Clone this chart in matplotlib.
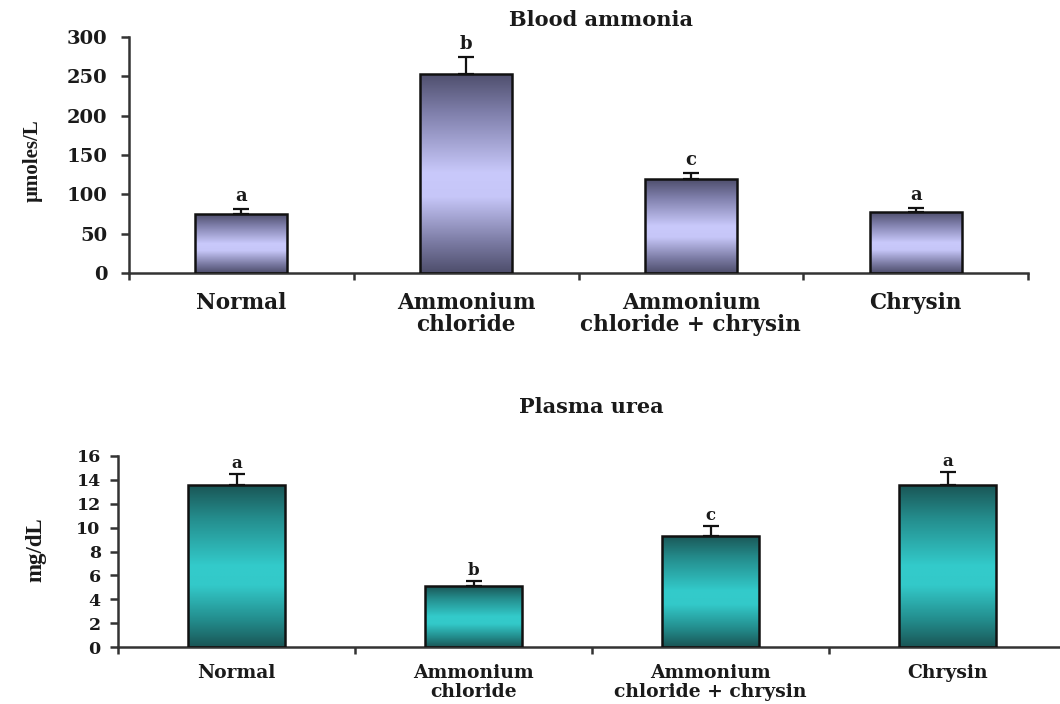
import numpy as np
import matplotlib
matplotlib.use("Agg")
import matplotlib.pyplot as plt
from matplotlib.colors import LinearSegmentedColormap

# ---------------- data ----------------
groups = ["Normal", "Ammonium\nchloride", "Ammonium\nchloride + chrysin", "Chrysin"]

ammonia_title = "Blood ammonia"
ammonia_ylabel = "µmoles/L"
ammonia_mean = [75, 253, 119, 77]
ammonia_sem = [6, 21, 8, 6]
ammonia_letters = ["a", "b", "c", "a"]
ammonia_ticks = [0, 50, 100, 150, 200, 250, 300]

urea_title = "Plasma urea"
urea_ylabel = "mg/dL"
urea_mean = [13.55, 5.1, 9.3, 13.55]
urea_sem = [0.95, 0.4, 0.8, 1.1]
urea_letters = ["a", "b", "c", "a"]
urea_ticks = [0, 2, 4, 6, 8, 10, 12, 14, 16]

W, H = 1060, 704
fig = plt.figure(figsize=(W / 100, H / 100), dpi=100)

SERIF_W = "DejaVu Serif"
SERIF_T = "Liberation Serif"
TXT = "#1a1a1a"

cmap_top = LinearSegmentedColormap.from_list(
    "lav", [(0.0, "#4e4e6c"), (0.2, "#8080ac"), (0.5, "#c9c9fb"), (0.62, "#c6c6f8"),
            (0.85, "#7a7aa2"), (1.0, "#4e4e6c")])
cmap_bot = LinearSegmentedColormap.from_list(
    "teal", [(0.0, "#1a5656"), (0.2, "#248c8c"), (0.5, "#33cbcb"), (0.62, "#33c9c9"),
             (0.85, "#228888"), (1.0, "#1a5656")])


def panel(rect, means, sems, letters, ticks, ylabel, cmap, tick_fs, ypad, xlab_fs, xpad,
          lsp, ylabel_fs, ylabel_xy, letter_fs, letter_off):
    ax = fig.add_axes(rect)
    x = np.arange(len(means))
    bars = ax.bar(x, means, width=0.41, color="none", edgecolor="#111111",
                  linewidth=1.8, zorder=3)
    grad = np.linspace(0, 1, 256).reshape(-1, 1)
    for b in bars:
        x0, y0 = b.get_x(), b.get_y()
        im = ax.imshow(grad, cmap=cmap, aspect="auto", origin="upper",
                       extent=(x0, x0 + b.get_width(), y0, y0 + b.get_height()),
                       zorder=2, interpolation="bilinear")
        im.set_clip_path(b)
    ax.errorbar(x, means, yerr=[np.zeros(len(sems)), sems], fmt="none",
                ecolor="#111111", elinewidth=1.6, capsize=5.5, capthick=1.6, zorder=4)
    for xi, m, s, t in zip(x, means, sems, letters):
        ax.annotate(t, (xi, m + s), xytext=(0, letter_off), textcoords="offset points",
                    ha="center", va="bottom", fontsize=letter_fs, fontweight="bold",
                    family=SERIF_W, color=TXT)
    ax.set_xlim(-0.5, len(means) - 0.5)
    ax.set_ylim(ticks[0], ticks[-1])
    ax.set_yticks(ticks)
    ax.set_yticklabels([str(t) for t in ticks], fontsize=tick_fs, fontweight="bold",
                       family=SERIF_W, color=TXT)
    ax.set_xticks(x)
    ax.set_xticklabels(groups, fontsize=xlab_fs, fontweight="bold", family=SERIF_W,
                       color=TXT, linespacing=lsp)
    ax.set_xticks(np.arange(-0.5, len(means)), minor=True)
    ax.tick_params(axis="x", which="major", length=0, pad=xpad)
    ax.tick_params(axis="x", which="minor", length=5, width=1.8, color="#333333",
                   direction="out")
    ax.tick_params(axis="y", length=5.5, width=1.8, color="#333333", pad=ypad)
    for s in ["top", "right"]:
        ax.spines[s].set_visible(False)
    for s in ["left", "bottom"]:
        ax.spines[s].set_linewidth(1.8)
        ax.spines[s].set_color("#333333")
    ax.set_ylabel(ylabel, fontsize=ylabel_fs, fontweight="bold", family=SERIF_T,
                  color=TXT)
    ax.yaxis.set_label_coords(*ylabel_xy)
    ax.set_facecolor("none")
    return ax


# top panel: axis x 129..1028, y 37..273
panel([129 / W, 1 - 273 / H, (1028 - 129) / W, (273 - 37) / H],
      ammonia_mean, ammonia_sem, ammonia_letters, ammonia_ticks, ammonia_ylabel,
      cmap_top, tick_fs=14, ypad=10, xlab_fs=15.5, xpad=14, lsp=1.0, ylabel_fs=15,
      ylabel_xy=(-0.096, 0.475), letter_fs=13, letter_off=3)
fig.text(601 / W, 1 - 20 / H, ammonia_title, ha="center", va="center", fontsize=15,
         fontweight="bold", family=SERIF_W, color=TXT)

# bottom panel: axis x 118..1066, y 456..647
panel([118 / W, 1 - 647 / H, (1066 - 118) / W, (647 - 456) / H],
      urea_mean, urea_sem, urea_letters, urea_ticks, urea_ylabel,
      cmap_bot, tick_fs=12.5, ypad=7, xlab_fs=13.5, xpad=12, lsp=1.1, ylabel_fs=16.5,
      ylabel_xy=(-0.076, 0.51), letter_fs=12, letter_off=1.5)
fig.text(591 / W, 1 - 407 / H, urea_title, ha="center", va="center", fontsize=15,
         fontweight="bold", family=SERIF_W, color=TXT)

fig.savefig("out.png", dpi=100, facecolor="white")
